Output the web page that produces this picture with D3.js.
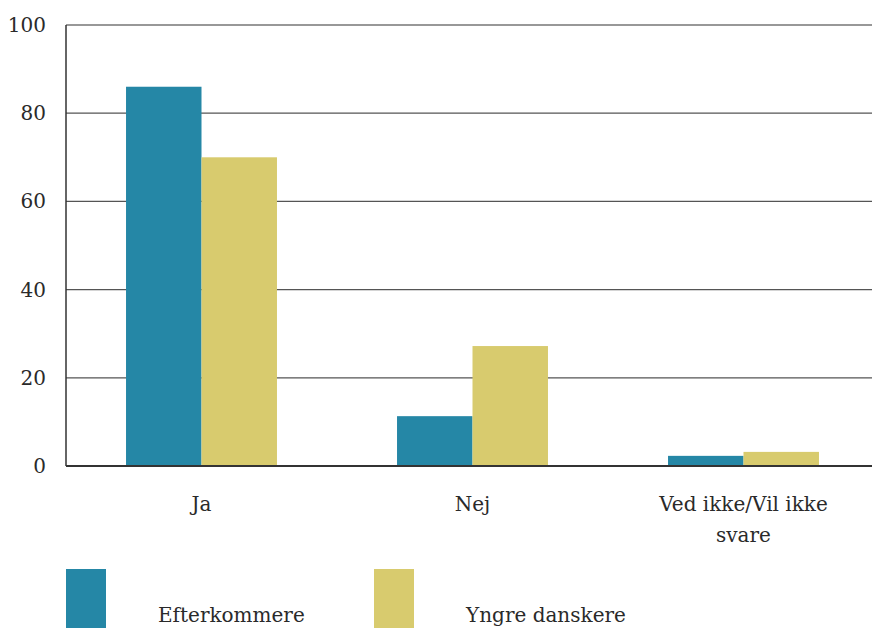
<!DOCTYPE html>
<html><head><meta charset="utf-8">
<script src="https://cdn.jsdelivr.net/npm/d3@7"></script>
<style>body{margin:0;background:#fff}svg{display:block}</style>
</head><body><svg id="c" width="872" height="628"></svg>
<script>
const categories = [["Ja"], ["Nej"], ["Ved ikke/Vil ikke", "svare"]];
const seriesNames = ["Efterkommere", "Yngre danskere"];
const efterkommere = [86, 11.3, 2.3];
const yngreDanskere = [70, 27.2, 3.2];
const yTicks = [0, 20, 40, 60, 80, 100];
const colors = ["#2587a6", "#d8cb6e"];

(function() {
const FONT = "'DejaVu Serif', serif";
const svg = d3.select("#c").attr("font-family", FONT);
const pLeft = 66, pRight = 879, pTop = 25, pBottom = 466;
const x = d3.scaleBand().domain(d3.range(categories.length)).range([pLeft, pRight]).paddingInner(0.443).paddingOuter(0.2215);
const x1 = d3.scaleBand().domain(d3.range(seriesNames.length)).range([0, x.bandwidth()]);
const y = d3.scaleLinear().domain([0, 100]).range([pBottom, pTop]);

svg.append("g").selectAll("line").data(yTicks.filter(d => d > 0)).join("line")
  .attr("x1", pLeft).attr("x2", 872).attr("y1", d => y(d)).attr("y2", d => y(d))
  .attr("stroke", d => d === 100 ? "#333" : "#555").attr("stroke-width", 1.2);

const data = [efterkommere, yngreDanskere];
data.forEach((vals, s) => {
  svg.append("g").selectAll("rect").data(vals).join("rect")
    .attr("x", (d, i) => x(i) + x1(s)).attr("width", x1.bandwidth())
    .attr("y", d => y(d)).attr("height", d => y(0) - y(d))
    .attr("fill", colors[s]);
});

svg.append("line").attr("x1", pLeft).attr("x2", pLeft).attr("y1", pTop).attr("y2", pBottom).attr("stroke", "#333").attr("stroke-width", 1.5);
svg.append("line").attr("x1", pLeft).attr("x2", 872).attr("y1", pBottom).attr("y2", pBottom).attr("stroke", "#333").attr("stroke-width", 2);

svg.append("g").selectAll("text").data(yTicks).join("text")
  .attr("x", 46).attr("y", d => y(d)).attr("dy", "0.35em").attr("text-anchor", "end")
  .attr("font-size", 20).attr("fill", "#2a2a2a").text(d => d);

const cl = svg.append("g").selectAll("text").data(categories).join("text")
  .attr("text-anchor", "middle").attr("font-size", 20).attr("fill", "#2a2a2a")
  .attr("x", (d, i) => x(i) + x.bandwidth() / 2).attr("y", 511);
cl.selectAll("tspan").data(d => d).join("tspan")
  .attr("x", function() { return this.parentNode.getAttribute("x"); })
  .attr("dy", (d, i) => i === 0 ? 0 : 31).text(d => d);

const legX = [66, 374];
seriesNames.forEach((n, i) => {
  svg.append("rect").attr("x", legX[i]).attr("y", 569).attr("width", 40).attr("height", 60).attr("fill", colors[i]);
  svg.append("text").attr("x", legX[i] + 92).attr("y", 622).attr("font-size", 20).attr("fill", "#2a2a2a").text(n);
});
})();
</script></body></html>
